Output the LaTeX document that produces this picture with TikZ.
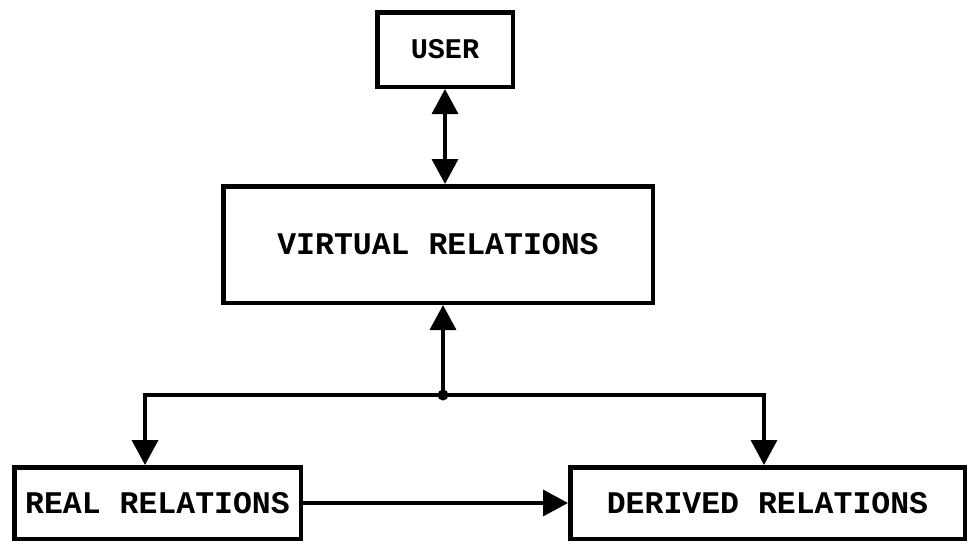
\documentclass[tikz,border=0pt]{standalone}
\usepackage{fontspec}
\setmainfont{Liberation Mono}
\usetikzlibrary{arrows.meta}

\tikzset{
  box/.style={draw, line width=4.5pt, inner sep=0pt, font=\bfseries\fontsize{31.5}{32}\selectfont},
  link/.style={line width=3.5pt},
  tip/.style={-{Triangle[length=25pt,width=26pt]}},
  both/.style={{Triangle[length=25pt,width=26pt]}-{Triangle[length=25pt,width=26pt]}},
}

\begin{document}
\begin{tikzpicture}[x=1pt,y=-1pt]
  \useasboundingbox (0,0) rectangle (969,544);

  % boxes
  \node[box, minimum width=135.5pt, minimum height=74.5pt,
        font=\bfseries\fontsize{28.5}{29}\selectfont] (user) at (445,49.5) {USER};
  \node[box, minimum width=429.5pt, minimum height=116.5pt] (virt) at (438,244.5) {VIRTUAL RELATIONS};
  \node[box, minimum width=286.5pt, minimum height=71.5pt] (real) at (157.5,503) {REAL RELATIONS};
  \node[box, minimum width=394.5pt, minimum height=71.5pt] (derv) at (767.5,503) {DERIVED RELATIONS};

  % branch point and drop points
  \coordinate (j) at (443,395);
  \coordinate (dl) at (145,395);
  \coordinate (dr) at (764,395);
  \fill (j) circle (5.5pt);

  % connectors
  \draw[link, both] (user.south) -- (user.south |- virt.north);
  \draw[link, tip] (j) -- (j |- virt.south);
  \draw[link, tip] (j) -- (dl) -- (dl |- real.north);
  \draw[link, tip] (j) -- (dr) -- (dr |- derv.north);
  \draw[link, tip] (real.east) -- (derv.west);
\end{tikzpicture}
\end{document}
